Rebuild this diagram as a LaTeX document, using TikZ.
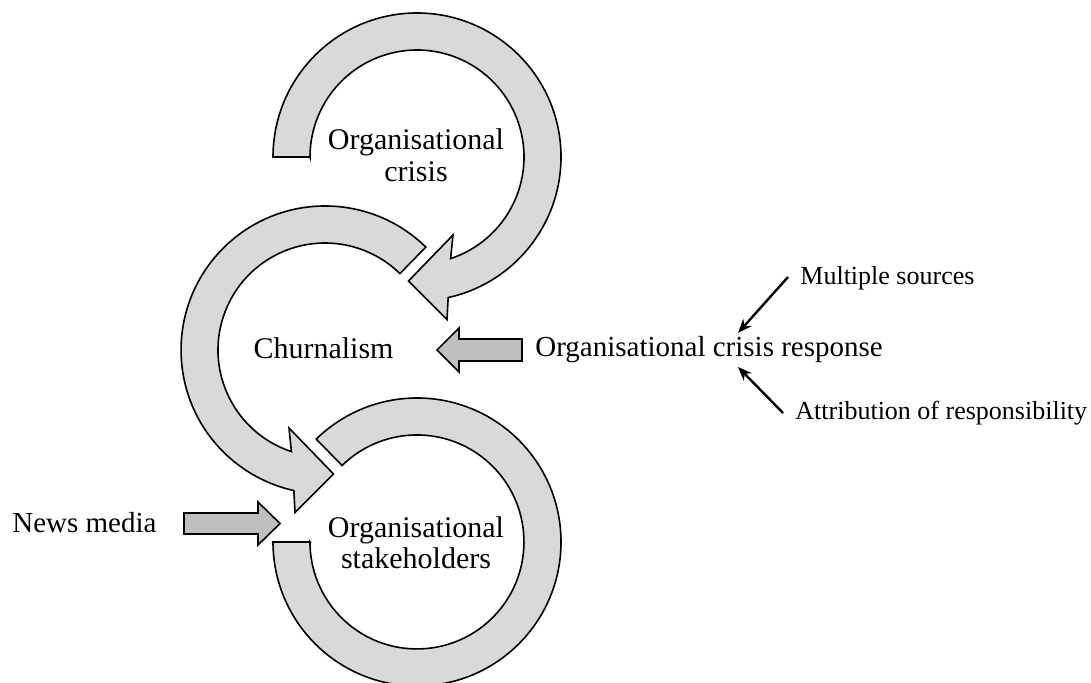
\documentclass[tikz,border=0pt]{standalone}
\usepackage{fontspec}
\setmainfont{Liberation Serif}
\usetikzlibrary{arrows.meta}
\definecolor{ringgray}{HTML}{D9D9D9}
\definecolor{arrowgray}{HTML}{BFBFBF}
\begin{document}
\begin{tikzpicture}[x=0.5pt,y=0.5pt,
  ring/.style={draw=black, fill=ringgray, line width=0.8pt, line join=miter},
  blockarrow/.style={draw=black, fill=arrowgray, line width=0.8pt, line join=miter},
  biglabel/.style={font=\fontsize{15}{18}\selectfont, inner sep=0pt, anchor=base},
  sidelabel/.style={font=\fontsize{14.5}{17}\selectfont, inner sep=0pt, anchor=base west},
  smalllabel/.style={font=\fontsize{13}{15}\selectfont, inner sep=0pt, anchor=base west},
  thinarrow/.style={-{Stealth[length=7pt,width=5.5pt]}, line width=1.2pt}
]
\useasboundingbox (0,0) rectangle (1091,-683);

% top ring (Organisational crisis), clockwise
\path[ring] (310,-157) -- (273,-157)
  arc[start angle=180, end angle=-77.5, radius=144]
  -- (447,-319.5) -- (408.5,-281) -- (453,-235)
  -- (450.6,-258.6) arc[start angle=-71.7, end angle=180, radius=107] -- cycle;

% middle ring (Churnalism), counter-clockwise
\path[ring] (399.9,-273.6) -- (425.8,-247.1)
  arc[start angle=45.6, end angle=257.5, radius=144]
  -- (295,-512.5) -- (333.5,-474) -- (289,-428)
  -- (291.4,-451.6) arc[start angle=251.7, end angle=45.6, radius=107] -- cycle;

% bottom ring (Organisational stakeholders)
\path[ring] (310,-542) -- (273,-542)
  arc[start angle=180, end angle=494.4, radius=144]
  -- (342.1,-465.5) arc[start angle=134.4, end angle=-180, radius=107] -- cycle;

% block arrows
\path[blockarrow] (522,-339) -- (459,-339) -- (459,-328) -- (437,-350)
  -- (459,-372) -- (459,-361) -- (522,-361) -- cycle;
\path[blockarrow] (184,-513) -- (258,-513) -- (258,-502) -- (280,-523.5)
  -- (258,-545) -- (258,-534) -- (184,-534) -- cycle;

% labels
\node[biglabel] (oc1) at (416,-150) {Organisational};
\node[biglabel] (oc2) at (416,-182) {crisis};
\node[biglabel] (churn) at (323.5,-359) {Churnalism};
\node[biglabel] (os1) at (416,-537) {Organisational};
\node[biglabel] (os2) at (416,-568) {stakeholders};
\node[sidelabel] (ocr) at (535,-357) {Organisational crisis response};
\node[sidelabel] (news) at (12,-532) {News media};
\node[smalllabel] (ms) at (800,-285) {Multiple sources};
\node[smalllabel] (ar) at (795,-420) {Attribution of responsibility};

% thin arrows
\coordinate (msstart) at (788,-277);
\coordinate (msend) at (738,-333);
\coordinate (arstart) at (783,-413);
\coordinate (arend) at (738,-367);
\draw[thinarrow] (msstart) -- (msend);
\draw[thinarrow] (arstart) -- (arend);
\end{tikzpicture}
\end{document}
